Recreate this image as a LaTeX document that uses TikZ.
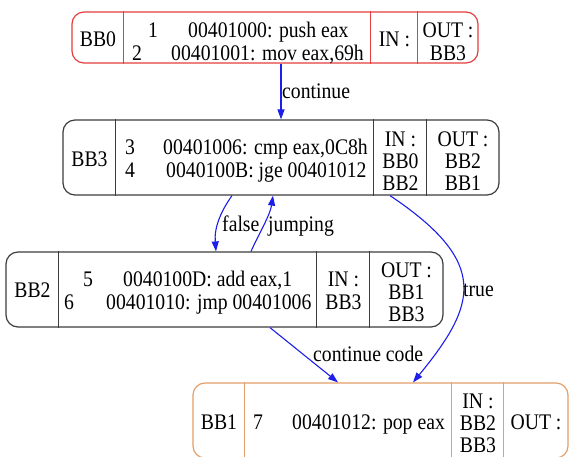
\documentclass[tikz,border=0pt]{standalone}
\usepackage{fontspec}
\setmainfont{Liberation Serif}
\usetikzlibrary{arrows.meta}

\definecolor{bbred}{RGB}{228,62,62}
\definecolor{bbgray}{RGB}{60,60,60}
\definecolor{bborange}{RGB}{228,158,104}
\definecolor{flowblue}{RGB}{30,30,235}

% slightly tall glyphs, as the block listings are set
\newcommand\vs[1]{\scalebox{1}[1.13]{#1}}

\tikzset{
  bbox/.style={draw, rounded corners=12pt, inner sep=0pt, line width=1.2pt},
  cell/.style={line width=1.2pt},
  txt/.style={inner sep=0pt, anchor=base, font=\fontsize{19.7pt}{22pt}\selectfont},
  txtl/.style={txt, anchor=base west},
  flow/.style={draw=flowblue, line width=1.1pt, -{Triangle[length=10pt,width=7pt]}},
}

\begin{document}
\begin{tikzpicture}[x=1pt, y=-1pt]
\useasboundingbox (0,0) rectangle (569,456);

% ---- BB0 ----
\node[bbox, draw=bbred, minimum width=406pt, minimum height=51pt] (bb0) at (275,37.5) {};
\foreach \d in {52,299,346}
  \draw[cell, bbred] ([xshift=\d pt]bb0.north west) -- ([xshift=\d pt]bb0.south west);
\node[txt] (bb0-name) at (98,46) {\vs{BB0}};
\node[txt] (bb0-n1) at (153,37) {\vs{1}};
\node[txtl] (bb0-c1) at (188,37) {\vs{00401000: push eax}};
\node[txt] (bb0-n2) at (137,60.5) {\vs{2}};
\node[txtl] (bb0-c2) at (171,60.5) {\vs{00401001: mov eax,69h}};
\node[txt] (bb0-in) at (394.5,46) {\vs{IN :}};
\node[txt] (bb0-out) at (448,37) {\vs{OUT :}};
\node[txt] (bb0-o1) at (448,60.5) {\vs{BB3}};

% ---- BB3 ----
\node[bbox, draw=bbgray, minimum width=436pt, minimum height=75pt] (bb3) at (281,157.5) {};
\foreach \d in {53,311,364}
  \draw[cell, bbgray] ([xshift=\d pt]bb3.north west) -- ([xshift=\d pt]bb3.south west);
\node[txt] (bb3-name) at (89.5,166) {\vs{BB3}};
\node[txt] (bb3-n1) at (130,154) {\vs{3}};
\node[txtl] (bb3-c1) at (163,154) {\vs{00401006: cmp eax,0C8h}};
\node[txt] (bb3-n2) at (130,177) {\vs{4}};
\node[txtl] (bb3-c2) at (166,177) {\vs{0040100B: jge 00401012}};
\node[txt] (bb3-in) at (400.5,146) {\vs{IN :}};
\node[txt] (bb3-i1) at (400.5,168) {\vs{BB0}};
\node[txt] (bb3-i2) at (400.5,190) {\vs{BB2}};
\node[txt] (bb3-out) at (463,146) {\vs{OUT :}};
\node[txt] (bb3-o1) at (463,168) {\vs{BB2}};
\node[txt] (bb3-o2) at (463,190) {\vs{BB1}};

% ---- BB2 ----
\node[bbox, draw=bbgray, minimum width=437pt, minimum height=75pt] (bb2) at (224.5,289.5) {};
\foreach \d in {53,311,364}
  \draw[cell, bbgray] ([xshift=\d pt]bb2.north west) -- ([xshift=\d pt]bb2.south west);
\node[txt] (bb2-name) at (32.5,297) {\vs{BB2}};
\node[txt] (bb2-n1) at (88,286.5) {\vs{5}};
\node[txtl] (bb2-c1) at (123,286.5) {\vs{0040100D: add eax,1}};
\node[txt] (bb2-n2) at (69,309) {\vs{6}};
\node[txtl] (bb2-c2) at (106,309) {\vs{00401010: jmp 00401006}};
\node[txt] (bb2-in) at (343.5,286.5) {\vs{IN :}};
\node[txt] (bb2-i1) at (343.5,309) {\vs{BB3}};
\node[txt] (bb2-out) at (406.5,277) {\vs{OUT :}};
\node[txt] (bb2-o1) at (406.5,299) {\vs{BB1}};
\node[txt] (bb2-o2) at (406.5,321) {\vs{BB3}};

% ---- BB1 ----
\node[bbox, draw=bborange, minimum width=375pt, minimum height=75pt] (bb1) at (380.5,420.5) {};
\foreach \d in {52,259,311}
  \draw[cell, bborange] ([xshift=\d pt]bb1.north west) -- ([xshift=\d pt]bb1.south west);
\node[txt] (bb1-name) at (219,429) {\vs{BB1}};
\node[txt] (bb1-n1) at (258,429) {\vs{7}};
\node[txtl] (bb1-c1) at (292,429) {\vs{00401012: pop eax}};
\node[txt] (bb1-in) at (478,408) {\vs{IN :}};
\node[txt] (bb1-i1) at (478,430) {\vs{BB2}};
\node[txt] (bb1-i2) at (478,452) {\vs{BB3}};
\node[txt] (bb1-out) at (536,429) {\vs{OUT :}};

% ---- control flow edges ----
\draw[flow] ([xshift=6pt]bb0.south) -- ([xshift=0pt]bb3.north);
\node[txtl] (lbl-cont) at (282,98) {\vs{continue}};

\draw[flow] ([xshift=-49pt]bb3.south) .. controls +(-10,14) and +(-2,-25) .. ([xshift=-8.5pt]bb2.north);
\node[txtl] (lbl-false) at (222,231) {\vs{false}};

\draw[flow] ([xshift=26.5pt]bb2.north) .. controls +(8,-18) and +(-3,20) .. ([xshift=-8pt]bb3.south);
\node[txtl] (lbl-jump) at (268,231) {\vs{jumping}};

\draw[flow] ([xshift=109pt]bb3.south) .. controls +(100,67) and +(64,-78) .. ([xshift=32.5pt]bb1.north);
\node[txtl] (lbl-true) at (463,296) {\vs{true}};

\draw[flow] ([xshift=45.5pt]bb2.south) -- ([xshift=-42.5pt]bb1.north);
\node[txtl] (lbl-code) at (313,361) {\vs{continue code}};
\end{tikzpicture}
\end{document}
